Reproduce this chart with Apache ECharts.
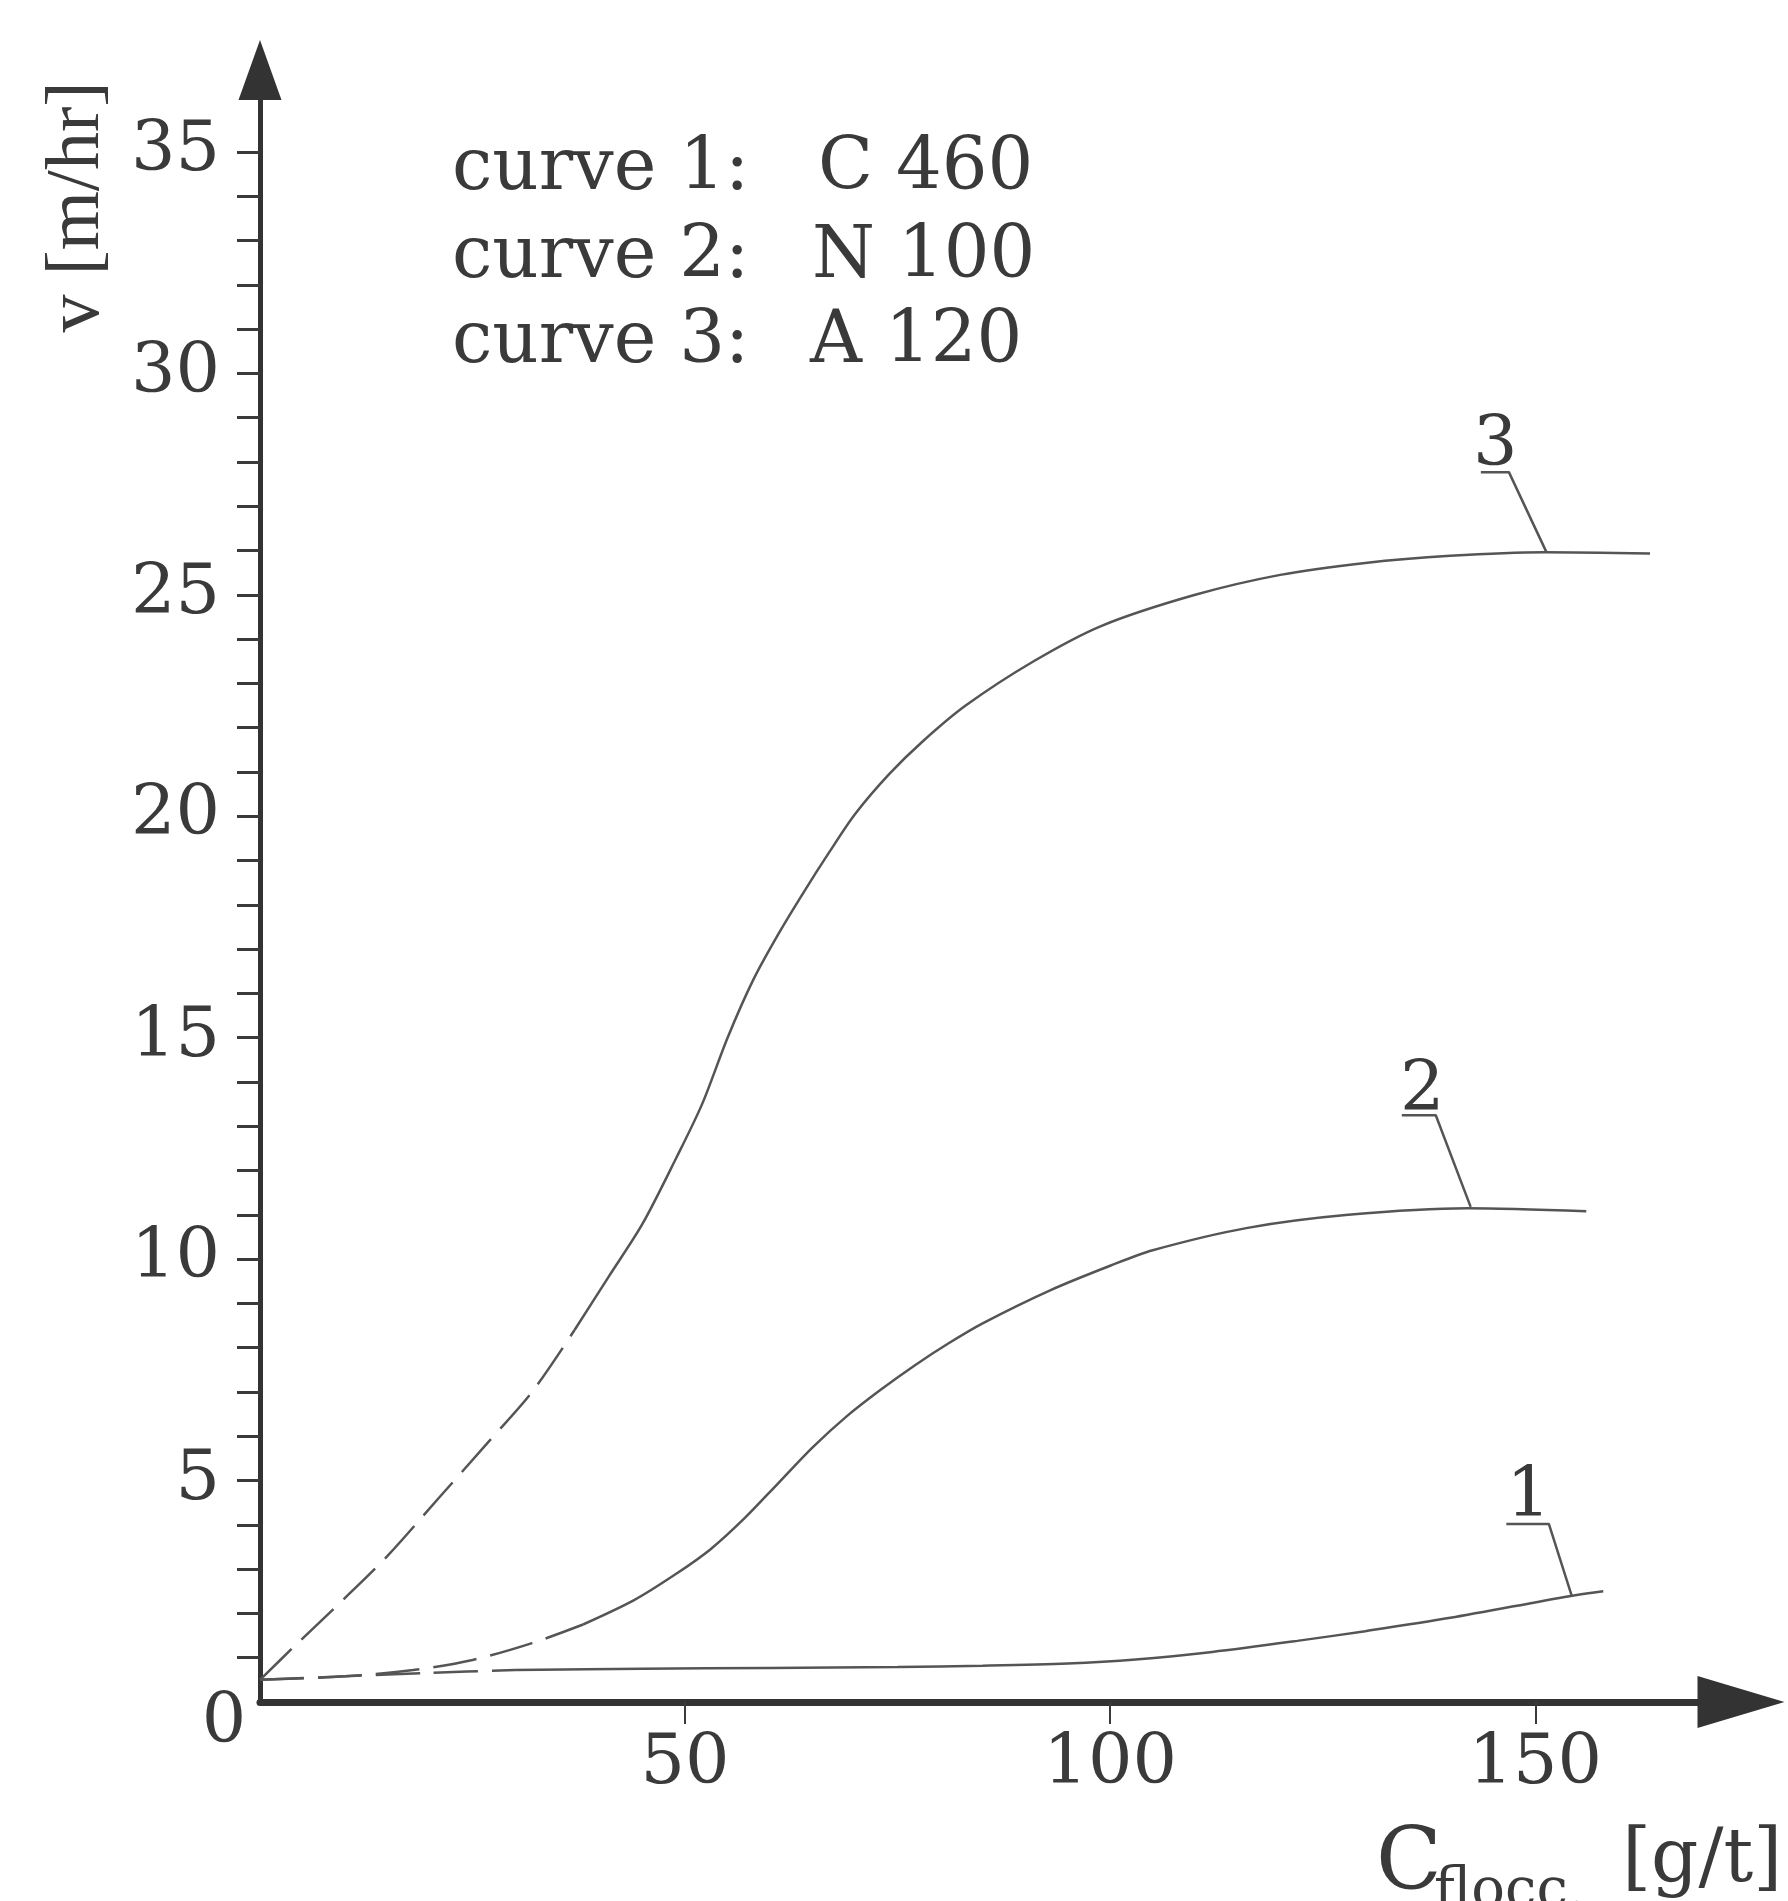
<!DOCTYPE html>
<html>
<head>
<meta charset="utf-8">
<title>v vs C flocc</title>
<script src="https://cdn.jsdelivr.net/npm/echarts@6.0.0/dist/echarts.min.js"></script>
<style>
  html, body { margin: 0; padding: 0; background: #fff; }
  #chart { width: 1788px; height: 1901px; }
</style>
</head>
<body>
<div id="chart"></div>
<script type="text/javascript">
	// values: [C flocc g/t, v m/hr]
	var curve1Dashed = [[0,0.5],[10,0.58],[20,0.66],[30,0.72]];
	var curve1Solid = [[30,0.72],[45,0.75],[60,0.77],[75,0.79],[85,0.82],[95,0.87],[103,0.96],[112,1.13],[122,1.38],[130,1.6],[140,1.9],[154,2.39],[158,2.5]];

	var curve2Dashed = [[0,0.5],[10,0.58],[18,0.72],[25,0.95],[32,1.33],[38,1.75]];
	var curve2Solid = [[38,1.75],[44,2.3],[49,2.9],[53,3.45],[57,4.15],[61,4.95],[65,5.75],[69,6.45],[73,7.05],[77,7.6],[81,8.1],[85,8.55],[93,9.3],[100,9.85],[105,10.2],[116,10.7],[128,11.0],[142,11.15],[156,11.08]];

	var curve3Dashed = [[0,0.5],[4,1.25],[10,2.35],[15,3.3],[21,4.6],[27,5.9],[32,7.0],[37,8.4]];
	var curve3Solid = [[37,8.4],[41,9.6],[45,10.8],[49,12.3],[52,13.5],[55,15.0],[58,16.3],[61,17.35],[64,18.3],[67,19.2],[70,20.05],[74,20.95],[78,21.7],[83,22.5],[91,23.5],[99,24.3],[110,25.0],[120,25.45],[130,25.72],[140,25.88],[151,25.96],[163.5,25.93]];

	// curve number tags with their leader lines
	var tag3Line = [[143.6,27.77],[146.9,27.77],[151.3,25.97]];
	var tag2Line = [[134.3,13.25],[138.3,13.25],[142.4,11.18]];
	var tag1Line = [[146.6,4.02],[151.6,4.02],[154.3,2.39]];
	var tagText = [[145.3,28.35,'3'],[136.7,13.78,'2'],[149.2,4.6,'1']];

	var xLabels = [50,100,150];
	var yLabels = [5,10,15,20,25,30,35];
	var yTicks = [];
	for (var i = 1; i <= 35; i++) yTicks.push(i);

	var legendNames = ['curve 1:', 'curve 2:', 'curve 3:'];
	var legendTypes = ['C 460', 'N 100', 'A 120'];

	var FONT = '"DejaVu Serif", serif';
	var INK = '#3a3a3a';
	var CURVE = '#555555';

	var myChart = echarts.init(document.getElementById('chart'));

	function curve(data, dashed) {
		return {
			type: 'line',
			data: data,
			smooth: 0.3,
			symbol: 'none',
			silent: true,
			lineStyle: { color: CURVE, width: 2.5, type: dashed ? [44, 14] : 'solid' }
		};
	}
	function leader(data) {
		return {
			type: 'line',
			data: data,
			symbol: 'none',
			silent: true,
			lineStyle: { color: CURVE, width: 2.5 }
		};
	}

	var graphics = [];
	for (var k = 0; k < 3; k++) {
		graphics.push({
			type: 'text', x: 452, y: [170, 258, 343][k],
			style: { text: legendNames[k], font: '72px ' + FONT, fill: INK, textAlign: 'left', textVerticalAlign: 'middle' }
		});
		graphics.push({
			type: 'text', x: [818, 812, 810][k], y: [170, 258, 343][k],
			style: { text: legendTypes[k], font: '72px ' + FONT, fill: INK, textAlign: 'left', textVerticalAlign: 'middle' }
		});
	}
	// axis names and the shared origin zero
	graphics.push({
		type: 'text', x: 78, y: 207, rotation: Math.PI / 2,
		style: { text: 'v [m/hr]', font: '76px "Liberation Serif", serif', fill: INK, textAlign: 'center', textVerticalAlign: 'middle' }
	});
	graphics.push({
		type: 'text', x: 1376, y: 1866,
		style: { text: 'C', font: '86px ' + FONT, fill: INK, textAlign: 'left', textVerticalAlign: 'middle' }
	});
	graphics.push({
		type: 'text', x: 1434, y: 1892,
		style: { text: 'flocc.', font: '56px ' + FONT, fill: INK, textAlign: 'left', textVerticalAlign: 'middle' }
	});
	graphics.push({
		type: 'text', x: 1782, y: 1862,
		style: { text: '[g/t]', font: '74px ' + FONT, fill: INK, textAlign: 'right', textVerticalAlign: 'middle' }
	});
	graphics.push({
		type: 'text', x: 224, y: 1724,
		style: { text: '0', font: '70px ' + FONT, fill: INK, textAlign: 'center', textVerticalAlign: 'middle' }
	});

	var option = {
		backgroundColor: '#ffffff',
		animation: false,
		grid: {
			left: 260, right: 47, top: 70, bottom: 199,
			containLabel: false,
			outerBoundsMode: 'none'
		},
		xAxis: {
			type: 'value',
			min: 0,
			max: 174.2,
			splitLine: { show: false },
			axisLine: {
				show: true,
				onZero: false,
				symbol: ['none', 'triangle'],
				symbolSize: [52, 87],
				lineStyle: { color: '#333333', width: 7 }
			},
			axisTick: { show: true, inside: false, length: 22, customValues: xLabels, lineStyle: { color: INK, width: 2 } },
			axisLabel: { show: true, margin: 28, customValues: xLabels, fontFamily: FONT, fontSize: 70, color: INK }
		},
		yAxis: {
			type: 'value',
			min: 0,
			max: 36.85,
			splitLine: { show: false },
			axisLine: {
				show: true,
				onZero: false,
				symbol: ['none', 'triangle'],
				symbolSize: [43, 60],
				lineStyle: { color: '#333333', width: 5 }
			},
			axisTick: { show: true, inside: false, length: 23, customValues: yTicks, lineStyle: { color: INK, width: 3 } },
			axisLabel: { show: true, margin: 40, customValues: yLabels, fontFamily: FONT, fontSize: 70, color: INK }
		},
		series: [
			curve(curve1Dashed, true), curve(curve1Solid, false),
			curve(curve2Dashed, true), curve(curve2Solid, false),
			curve(curve3Dashed, true), curve(curve3Solid, false),
			leader(tag3Line), leader(tag2Line), leader(tag1Line),
			{
				type: 'scatter',
				data: tagText,
				symbolSize: 1,
				silent: true,
				itemStyle: { color: 'rgba(0,0,0,0)', opacity: 1 },
				label: {
					show: true,
					position: 'inside',
					formatter: function (p) { return p.value[2]; },
					fontFamily: FONT,
					fontSize: 70,
					color: INK,
					opacity: 1
				}
			}
		],
		graphic: graphics
	};
	myChart.setOption(option);
</script>
</body>
</html>
